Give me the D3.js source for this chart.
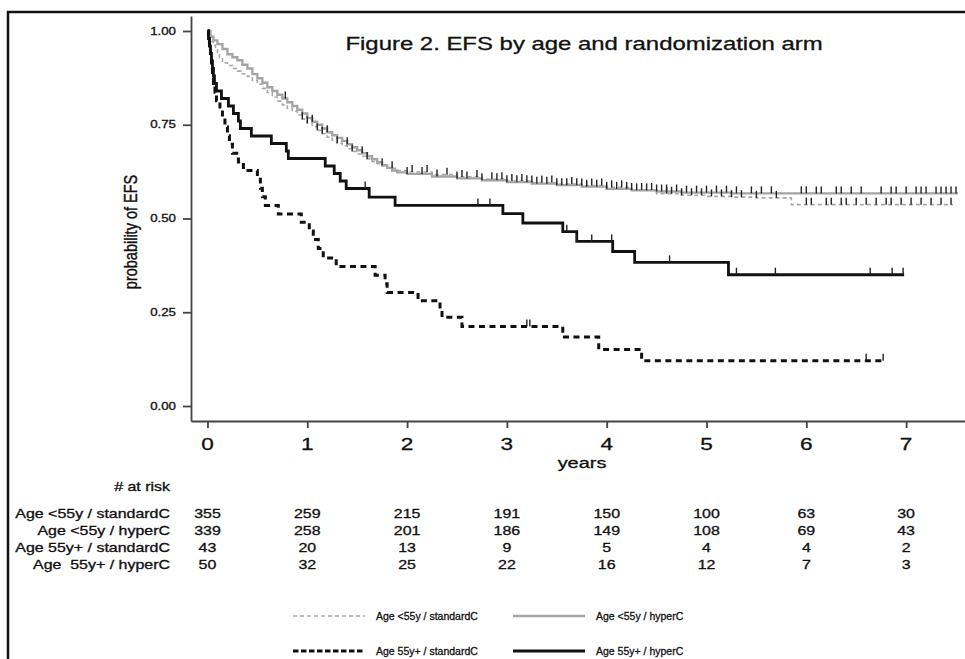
<!DOCTYPE html>
<html>
<head>
<meta charset="utf-8">
<script src="https://cdn.jsdelivr.net/npm/d3@7"></script>
<style>
  body { margin: 0; background: #fff; }
  svg { display: block; font-family: "Liberation Sans", Arial, sans-serif; }
  text { fill: #111; stroke: #111; stroke-width: 0.3px; }
</style>
</head>
<body>
<div id="chart"></div>
<script>
// ---- data ----
const yearTicks = [0, 1, 2, 3, 4, 5, 6, 7];
const probTicks = [0, 0.25, 0.5, 0.75, 1];

const groupNames = ["Age <55y / standardC", "Age <55y / hyperC", "Age 55y+ / standardC", "Age 55y+ / hyperC"];
const riskLabels = ["Age <55y / standardC", "Age <55y / hyperC", "Age 55y+ / standardC", "Age  55y+ / hyperC"];

const riskLt55Std = [355, 259, 215, 191, 150, 100, 63, 30];
const riskLt55Hyper = [339, 258, 201, 186, 149, 108, 69, 43];
const risk55Std = [43, 20, 13, 9, 5, 4, 4, 2];
const risk55Hyper = [50, 32, 25, 22, 16, 12, 7, 3];

// KM steps: [year, probability after the drop]
const kmLt55Std = [[0,1],[0.02,0.985],[0.04,0.972],[0.06,0.962],[0.08,0.952],[0.1,0.94],[0.12,0.928],[0.15,0.915],
  [0.2,0.908],[0.25,0.9],[0.3,0.893],[0.35,0.886],[0.4,0.879],[0.45,0.868],[0.5,0.858],[0.55,0.847],[0.6,0.836],
  [0.65,0.824],[0.7,0.813],[0.75,0.803],[0.8,0.794],[0.85,0.786],[0.9,0.776],[0.95,0.765],[1.0,0.754],[1.05,0.745],
  [1.1,0.735],[1.15,0.726],[1.2,0.717],[1.25,0.709],[1.3,0.701],[1.35,0.694],[1.4,0.686],[1.45,0.679],[1.5,0.672],
  [1.55,0.666],[1.6,0.659],[1.65,0.652],[1.7,0.646],[1.75,0.64],[1.8,0.634],[1.9,0.628],[2.0,0.624],[2.25,0.617],
  [2.5,0.611],[2.75,0.605],[3.0,0.6],[3.25,0.596],[3.5,0.592],[3.75,0.588],[4.0,0.583],[4.25,0.576],[4.5,0.566],
  [4.75,0.562],[5.0,0.559],[5.25,0.557],[5.5,0.555],[5.85,0.537]];
const kmLt55Hyper = [[0,1],[0.03,0.985],[0.06,0.975],[0.1,0.965],[0.15,0.952],[0.2,0.938],[0.25,0.93],[0.3,0.922],
  [0.35,0.91],[0.4,0.9],[0.45,0.885],[0.5,0.874],[0.55,0.862],[0.6,0.85],[0.65,0.84],[0.7,0.83],[0.75,0.82],
  [0.8,0.81],[0.85,0.8],[0.9,0.79],[0.95,0.78],[1.0,0.768],[1.05,0.758],[1.1,0.75],[1.15,0.74],[1.2,0.73],
  [1.25,0.722],[1.3,0.715],[1.35,0.707],[1.4,0.698],[1.45,0.69],[1.5,0.682],[1.55,0.674],[1.6,0.666],[1.65,0.658],
  [1.7,0.65],[1.75,0.642],[1.8,0.635],[1.85,0.628],[1.9,0.623],[2.0,0.619],[2.25,0.612],[2.5,0.607],[2.75,0.602],
  [3.0,0.597],[3.25,0.593],[3.5,0.589],[3.75,0.585],[4.0,0.579],[4.25,0.575],[4.5,0.572],[4.75,0.569],[5.25,0.567]];
const km55Std = [[0,1],[0.01,0.977],[0.02,0.953],[0.03,0.93],[0.04,0.907],[0.05,0.884],[0.06,0.86],[0.075,0.837],
  [0.09,0.814],[0.125,0.791],[0.15,0.767],[0.175,0.744],[0.2,0.721],[0.22,0.698],[0.25,0.674],[0.31,0.651],
  [0.36,0.628],[0.5,0.605],[0.53,0.581],[0.55,0.558],[0.58,0.535],[0.71,0.512],[0.94,0.49],[1.02,0.467],
  [1.06,0.444],[1.11,0.42],[1.16,0.395],[1.29,0.372],[1.68,0.349],[1.78,0.326],[1.8,0.303],[2.11,0.281],
  [2.33,0.26],[2.35,0.237],[2.55,0.212],[3.56,0.184],[3.92,0.151],[4.35,0.121]];
const km55Hyper = [[0,1],[0.01,0.98],[0.02,0.96],[0.03,0.94],[0.04,0.92],[0.05,0.9],[0.06,0.88],[0.07,0.86],
  [0.09,0.84],[0.14,0.82],[0.21,0.8],[0.26,0.78],[0.31,0.76],[0.33,0.74],[0.44,0.72],[0.64,0.7],[0.79,0.68],
  [0.81,0.66],[1.18,0.64],[1.27,0.62],[1.33,0.6],[1.39,0.58],[1.62,0.557],[1.88,0.535],[2.96,0.513],
  [3.16,0.488],[3.56,0.465],[3.7,0.439],[4.06,0.412],[4.28,0.383],[5.22,0.35]];

// last follow-up time of each curve
const kmEnds = [7.47, 7.52, 6.77, 6.98];

// censoring marks (years)
const censLt55Std = [0.95,1.0,1.1,1.15,1.3,1.45,1.6,1.85,2.05,2.2,2.4,2.55,2.7,2.85,2.95,3.05,3.15,3.25,3.35,3.45,
  3.65,3.75,3.85,3.95,4.05,4.15,4.25,4.35,4.45,4.6,4.65,4.75,4.85,4.95,5.05,5.15,5.25,5.35,5.5,5.7,6.0,6.05,6.2,
  6.25,6.35,6.4,6.5,6.6,6.7,6.8,6.85,6.95,7.05,7.15,7.25,7.35,7.45];
const censLt55Hyper = [0.78,1.05,1.2,1.4,1.55,1.75,2.0,2.15,2.3,2.5,2.6,2.75,2.9,3.0,3.1,3.2,3.3,3.4,3.5,3.55,3.6,
  3.7,3.8,3.9,4.0,4.1,4.2,4.3,4.4,4.5,4.55,4.6,4.7,4.8,4.9,5.0,5.1,5.2,5.3,5.45,5.55,5.65,5.95,6.0,6.1,6.15,6.3,
  6.35,6.45,6.55,6.75,6.85,6.9,7.0,7.1,7.15,7.2,7.3,7.35,7.4,7.45,7.5];
const cens55Std = [3.2, 3.23, 6.6, 6.77];
const cens55Hyper = [1.58, 2.71, 2.83, 3.6, 3.7, 3.85, 4.05, 4.63, 5.3, 5.69, 6.64, 6.86, 6.97];

// ---- layout ----
const width = 965, height = 659;
const SX = 1.33; // the figure's lettering is stretched horizontally

const svg = d3.select("#chart").append("svg")
    .attr("width", width)
    .attr("height", height);

const x = d3.scaleLinear().domain([-0.165, 7.6]).range([191, 966]);
const y = d3.scaleLinear().domain([-0.04, 1.04]).range([421, 16]);

function label(parent, px, py, str, size, anchor) {
    return parent.append("text")
        .attr("transform", `translate(${px},${py}) scale(${SX},1)`)
        .attr("text-anchor", anchor || "start")
        .attr("font-size", size)
        .text(str);
}

// frame
svg.append("line").attr("x1", 8).attr("x2", 8).attr("y1", 11).attr("y2", height)
    .attr("stroke", "#111").attr("stroke-width", 2.5);
svg.append("line").attr("x1", 7).attr("x2", width).attr("y1", 12).attr("y2", 12)
    .attr("stroke", "#111").attr("stroke-width", 2.5);

// axes
const xAxis = svg.append("g")
    .attr("transform", `translate(0,${y.range()[0]})`)
    .call(d3.axisBottom(x).tickValues(yearTicks).tickSize(7).tickSizeOuter(0).tickFormat(""));
const yAxis = svg.append("g")
    .attr("transform", `translate(${x.range()[0]},0)`)
    .call(d3.axisLeft(y).tickValues(probTicks).tickSize(8).tickSizeOuter(0).tickFormat(""));
[xAxis, yAxis].forEach(g => {
    g.selectAll("path, line").attr("stroke", "#444").attr("stroke-width", 1.8);
});

yearTicks.forEach(t => label(svg, x(t), 450, t, 17, "middle"));
probTicks.forEach(p => label(svg, 176, y(p) + 3.5, d3.format(".2f")(p), 10, "end"));

label(svg, 582, 468, "years", 15, "middle");
svg.append("text")
    .attr("transform", `translate(137,232) scale(${SX},1) rotate(-90)`)
    .attr("text-anchor", "middle")
    .attr("font-size", 14.5)
    .text("probability of EFS");

label(svg, 584, 50, "Figure 2. EFS by age and randomization arm", 18, "middle");

// curves
const series = [
    {steps: kmLt55Std, end: kmEnds[0], cens: censLt55Std, color: "#a9a9a9", w: 1.6, dash: "4,3"},
    {steps: kmLt55Hyper, end: kmEnds[1], cens: censLt55Hyper, color: "#a4a4a4", w: 2.3, dash: null},
    {steps: km55Std, end: kmEnds[2], cens: cens55Std, color: "#111", w: 3, dash: "6,4.5"},
    {steps: km55Hyper, end: kmEnds[3], cens: cens55Hyper, color: "#111", w: 2.8, dash: null}
];

const line = d3.line()
    .x(d => x(d[0]))
    .y(d => y(d[1]))
    .curve(d3.curveStepAfter);
const bis = d3.bisector(d => d[0]).right;
const survAt = (steps, t) => steps[Math.max(bis(steps, t) - 1, 0)][1];

series.forEach(s => {
    const pts = s.steps.concat([[s.end, s.steps[s.steps.length - 1][1]]]);
    svg.append("path")
        .attr("d", line(pts))
        .attr("fill", "none")
        .attr("stroke", s.color)
        .attr("stroke-width", s.w)
        .attr("stroke-dasharray", s.dash);
});

series.forEach(s => {
    svg.append("g").selectAll("line")
        .data(s.cens)
        .join("line")
        .attr("x1", d => x(d)).attr("x2", d => x(d))
        .attr("y1", d => y(survAt(s.steps, d)))
        .attr("y2", d => y(survAt(s.steps, d)) - 7)
        .attr("stroke", "#222")
        .attr("stroke-width", 1.4);
});

// number at risk table
label(svg, 170, 491, "# at risk", 12, "end");
const riskRows = [riskLt55Std, riskLt55Hyper, risk55Std, risk55Hyper];
riskRows.forEach((row, i) => {
    const rowY = 518 + i * 17;
    label(svg, 170, rowY, riskLabels[i], 12, "end").style("white-space", "pre");
    row.forEach((n, j) => label(svg, x(yearTicks[j]), rowY, n, 12, "middle"));
});

// legend (its lettering is not stretched)
const legendPos = [[293, 616], [513, 616], [293, 651], [513, 651]];
series.forEach((s, i) => {
    const [lx, ly] = legendPos[i];
    svg.append("line")
        .attr("x1", lx).attr("x2", lx + 72)
        .attr("y1", ly).attr("y2", ly)
        .attr("stroke", s.color)
        .attr("stroke-width", s.w)
        .attr("stroke-dasharray", i === 2 ? "5.5,2.5" : s.dash);
    svg.append("text")
        .attr("x", lx + 83)
        .attr("y", ly + 3.5)
        .attr("font-size", 10.5)
        .text(groupNames[i]);
});
</script>
</body>
</html>
